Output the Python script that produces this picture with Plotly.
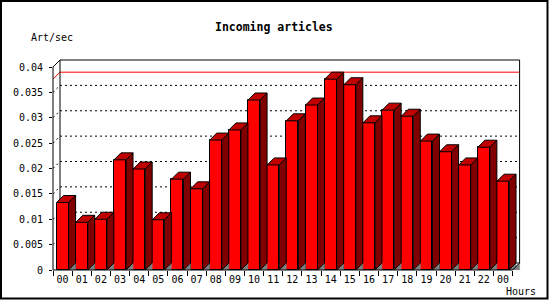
import plotly.graph_objects as go

# ---- data ----
hours = ["00", "01", "02", "03", "04", "05", "06", "07", "08", "09", "10", "11",
         "12", "13", "14", "15", "16", "17", "18", "19", "20", "21", "22", "00"]
rates = [0.0133, 0.0094, 0.0100, 0.0217, 0.0199, 0.0099, 0.0179, 0.0160,
         0.0256, 0.0276, 0.0335, 0.0207, 0.0294, 0.0325, 0.0376, 0.0365,
         0.0290, 0.0315, 0.0303, 0.0254, 0.0233, 0.0207, 0.0242, 0.0175]
ytick_vals = [0, 0.005, 0.01, 0.015, 0.02, 0.025, 0.03, 0.035, 0.04]
ytick_text = ["0", "0.005", "0.01", "0.015", "0.02", "0.025", "0.03", "0.035", "0.04"]
title_text = "Incoming articles"
y_title = "Art/sec"
x_title = "Hours"

# ---- geometry ----
WIDTH, HEIGHT = 550, 300
L, R, T, B = 53, 20, 50, 30
W = WIDTH - L - R
H = HEIGHT - T - B
PPX = 19.15          # pixels per category
PPY = 203 / 0.04     # pixels per unit value
DEPTH = 7            # 3-D depth in pixels
dxu = DEPTH / PPX
dyu = DEPTH / PPY
xmax = W / PPX
ymax = H / PPY
BW = 0.627
n = len(rates)
ytop = ytick_vals[-1]

FONT = "DejaVu Sans Mono"

def px_x(px):
    return (px - L) / W

def px_y(py):
    return (HEIGHT - B - py) / H

xs = [i + 0.5 for i in range(n)]

# polygons for the 3-D faces
top_x, top_y, side_x, side_y, sh_x, sh_y = [], [], [], [], [], []
for xc, v in zip(xs, rates):
    xl, xr = xc - BW / 2, xc + BW / 2
    top_x += [xl, xl + dxu, xr + dxu, xr, xl, None]
    top_y += [v, v + dyu, v + dyu, v, v, None]
    side_x += [xr, xr + dxu, xr + dxu, xr, xr, None]
    side_y += [0, dyu, v + dyu, v, 0, None]
    sh_x += [xr, xr + dxu, xr + dxu, xr, None]
    sh_y += [0, dyu, 0, 0, None]
# floor corner at the right end
sh_x += [n, n + dxu, n + dxu, n, None]
sh_y += [0, dyu, 0, 0, None]

fig = go.Figure()
fig.add_trace(go.Scatter(x=sh_x, y=sh_y, mode="lines", fill="toself",
                         fillcolor="#808080", line=dict(color="#808080", width=0.5),
                         hoverinfo="skip", showlegend=False))
fig.add_trace(go.Bar(x=xs, y=rates, width=BW,
                     marker=dict(color="#FF0000", line=dict(color="black", width=1)),
                     hoverinfo="skip", showlegend=False))
fig.add_trace(go.Scatter(x=side_x, y=side_y, mode="lines", fill="toself",
                         fillcolor="#800000", line=dict(color="black", width=1),
                         hoverinfo="skip", showlegend=False))
fig.add_trace(go.Scatter(x=top_x, y=top_y, mode="lines", fill="toself",
                         fillcolor="#C00000", line=dict(color="black", width=1),
                         hoverinfo="skip", showlegend=False))

shapes = []
dot = dict(color="black", width=1, dash="2px,3px")
for v in ytick_vals[1:-1]:
    shapes.append(dict(type="line", xref="x", yref="y", x0=dxu, x1=n + dxu,
                       y0=v + dyu, y1=v + dyu, line=dot, layer="below"))
    shapes.append(dict(type="line", xref="x", yref="y", x0=0, x1=dxu,
                       y0=v, y1=v + dyu, line=dot, layer="below"))
# max line (red)
vmax = max(rates)
shapes.append(dict(type="line", xref="x", yref="y", x0=dxu, x1=n + dxu,
                   y0=vmax + dyu, y1=vmax + dyu, line=dict(color="red", width=1), layer="below"))
shapes.append(dict(type="line", xref="x", yref="y", x0=0, x1=dxu,
                   y0=vmax, y1=vmax + dyu, line=dict(color="red", width=1), layer="below"))
# back frame
blk = dict(color="black", width=1)
for (x0, y0, x1, y1) in [
    (dxu, ytop + dyu, n + dxu, ytop + dyu),
    (n + dxu, dyu, n + dxu, ytop + dyu),
    (dxu, dyu, dxu, ytop + dyu),
    (dxu, dyu, n + dxu, dyu),
    (0, ytop, dxu, ytop + dyu),
]:
    shapes.append(dict(type="line", xref="x", yref="y", x0=x0, x1=x1, y0=y0, y1=y1,
                       line=blk, layer="below"))
shapes.append(dict(type="line", xref="x", yref="y", x0=n, x1=n + dxu, y0=0, y1=dyu,
                   line=blk, layer="above"))
# front axis lines (paper refs so they are not clipped)
shapes.append(dict(type="line", xref="paper", yref="paper", x0=0, x1=n / xmax,
                   y0=0, y1=0, line=blk, layer="above"))
shapes.append(dict(type="line", xref="paper", yref="paper", x0=0, x1=0,
                   y0=0, y1=ytop / ymax, line=blk, layer="above"))
# outer border
shapes.append(dict(type="rect", xref="paper", yref="paper",
                   x0=px_x(1), x1=px_x(547.5), y0=px_y(1), y1=px_y(298.5),
                   line=dict(color="black", width=2), layer="above"))

annotations = [
    dict(text="<b>" + title_text + "</b>", xref="paper", yref="paper",
         x=px_x(274), y=px_y(27), xanchor="center", yanchor="middle",
         showarrow=False, font=dict(family=FONT, size=11.5, color="black")),
    dict(text=y_title, xref="paper", yref="paper", x=px_x(29), y=px_y(37),
         xanchor="left", yanchor="middle", showarrow=False,
         font=dict(family=FONT, size=10, color="black")),
    dict(text=x_title, xref="paper", yref="paper", x=px_x(504), y=px_y(291.5),
         xanchor="left", yanchor="middle", showarrow=False,
         font=dict(family=FONT, size=10, color="black")),
]

fig.update_layout(
    width=WIDTH, height=HEIGHT,
    margin=dict(l=L, r=R, t=T, b=B, pad=0),
    paper_bgcolor="white", plot_bgcolor="white",
    showlegend=False,
    shapes=shapes, annotations=annotations,
    xaxis=dict(range=[0, xmax], tickmode="array", tickvals=xs, ticktext=hours,
               ticks="", showgrid=False, zeroline=False, showline=False,
               tickfont=dict(family=FONT, size=10, color="black"),
               ticklabelstandoff=2,
               minor=dict(tickmode="array", tickvals=list(range(n + 1)),
                          ticks="outside", ticklen=5, tickwidth=1,
                          tickcolor="black", showgrid=False),
               fixedrange=True),
    yaxis=dict(range=[0, ymax], tickmode="array", tickvals=ytick_vals,
               ticktext=ytick_text, ticks="outside", ticklen=3, tickwidth=1,
               tickcolor="black", showgrid=False, zeroline=False, showline=False,
               tickfont=dict(family=FONT, size=10, color="black"),
               ticklabelstandoff=4, fixedrange=True),
    bargap=0,
)

fig.write_html("out.html", config={"displayModeBar": False})
